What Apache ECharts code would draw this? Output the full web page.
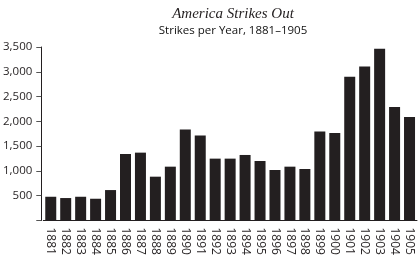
<!DOCTYPE html>
<html>
<head>
<meta charset="utf-8">
<script src="https://cdn.jsdelivr.net/npm/echarts@6/dist/echarts.min.js"></script>
<style>
html,body{margin:0;padding:0;background:#fff;}
#chart{width:418px;height:258px;}
</style>
</head>
<body>
<div id="chart"></div>
<script>
var years = ['1881','1882','1883','1884','1885','1886','1887','1888','1889','1890','1891','1892','1893','1894','1895','1896','1897','1898','1899','1900','1901','1902','1903','1904','1905'];
var strikes = [479, 453, 479, 439, 614, 1342, 1369, 884, 1086, 1834, 1713, 1248, 1248, 1322, 1200, 1019, 1086, 1039, 1794, 1767, 2899, 3105, 3465, 2292, 2090];
var yTicks = [0, 3500, 500];

var chart = echarts.init(document.getElementById('chart'), null, {renderer:'canvas'});
var ink = '#231f20';
chart.setOption({
  animation: false,
  title: {
    text: 'America Strikes Out',
    subtext: 'Strikes per Year, 1881–1905',
    left: 228, textAlign: 'center', top: 2, itemGap: 3,
    textStyle: {fontFamily: 'Liberation Serif', fontStyle: 'italic', fontWeight: 'normal', fontSize: 15, color: ink},
    subtextStyle: {fontFamily: 'Open Sans', fontSize: 11.5, color: '#111'}
  },
  grid: {left: 42, right: 1, top: 47, bottom: 37.5, containLabel: false},
  xAxis: {
    type: 'category', data: years,
    axisLine: {lineStyle: {color: ink, width: 1}},
    axisTick: {alignWithLabel: true, length: 5, lineStyle: {color: ink}},
    axisLabel: {rotate: -90, margin: 7, fontFamily: 'Open Sans', fontSize: 12, color: ink, interval: 0}
  },
  yAxis: {
    type: 'value', min: yTicks[0], max: yTicks[1], interval: yTicks[2], offset: 2,
    splitLine: {show: false},
    axisLine: {show: true, lineStyle: {color: ink, width: 1}},
    axisTick: {show: true, length: 5, lineStyle: {color: '#555'}},
    axisLabel: {
      margin: 9, fontFamily: 'Open Sans', fontSize: 11.5, color: ink,
      formatter: function(v){ return v === 0 ? '' : v.toLocaleString('en-US'); }
    }
  },
  series: [{
    type: 'bar', data: strikes, barWidth: 11,
    itemStyle: {color: ink}
  }]
});
</script>
</body>
</html>
